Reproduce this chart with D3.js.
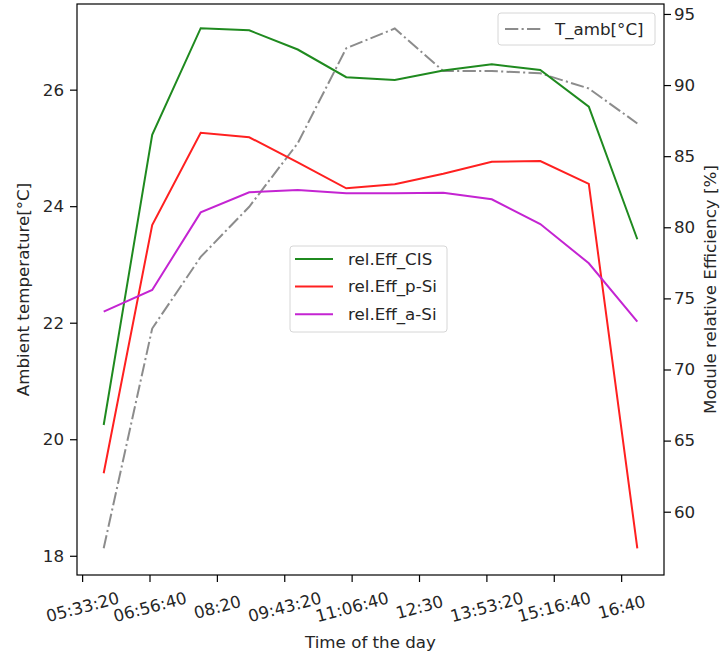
<!DOCTYPE html>
<html>
<head>
<meta charset="utf-8">
<script src="https://cdn.jsdelivr.net/npm/d3@7"></script>
<style>
  body { margin: 0; background: #fff; }
  svg { font-family: "DejaVu Sans", sans-serif; }
  text { fill: #262626; }
</style>
</head>
<body>
<svg width="722" height="655"></svg>
<script>
// hourly readings, time as seconds since midnight
var hours = [6, 7, 8, 9, 10, 11, 12, 13, 14, 15, 16, 17];
var tAmb = [18.13, 21.90, 23.13, 23.99, 25.08, 26.71, 27.05, 26.32, 26.32, 26.28, 26.02, 25.42];
var effCIS = [66.1, 86.5, 94.0, 93.85, 92.5, 90.55, 90.36, 91.03, 91.46, 91.06, 88.48, 79.16];
var effPSi = [62.7, 80.16, 86.65, 86.33, 84.57, 82.74, 83.02, 83.77, 84.61, 84.66, 83.05, 57.43];
var effASi = [74.07, 75.59, 81.05, 82.46, 82.62, 82.39, 82.39, 82.43, 81.97, 80.23, 77.47, 73.36];
var xTickValues = [20000, 25000, 30000, 35000, 40000, 45000, 50000, 55000, 60000];
var xTickLabels = ['05:33:20', '06:56:40', '08:20', '09:43:20', '11:06:40', '12:30', '13:53:20', '15:16:40', '16:40'];
var leftTicks = [18, 20, 22, 24, 26];
var rightTicks = [60, 65, 70, 75, 80, 85, 90, 95];

var margin = {left: 77, top: 4, right: 664, bottom: 575};
var fs = 16.7;

var svg = d3.select('svg');

var x = d3.scaleLinear()
          .domain([19620, 63180])
          .range([margin.left, margin.right]);

var yL = d3.scaleLinear()
           .domain([17.67, 27.47])
           .range([margin.bottom, margin.top]);

var yR = d3.scaleLinear()
           .domain([55.55, 95.7])
           .range([margin.bottom, margin.top]);

var secs = hours.map(h => h * 3600);

function series(vals) {
  return vals.map((v, i) => ({t: secs[i], v: v}));
}

var lineL = d3.line().x(d => x(d.t)).y(d => yL(d.v));
var lineR = d3.line().x(d => x(d.t)).y(d => yR(d.v));

var effSeries = [
  {name: 'rel.Eff_CIS', color: '#1f8a1f', vals: effCIS},
  {name: 'rel.Eff_p-Si', color: '#ff2020', vals: effPSi},
  {name: 'rel.Eff_a-Si', color: '#c424d2', vals: effASi}
];

// temperature (left axis)
svg.append('path')
    .datum(series(tAmb))
    .attr('d', lineL)
    .attr('fill', 'none')
    .attr('stroke', '#8c8c8c')
    .attr('stroke-width', 2)
    .attr('stroke-dasharray', '13.3,3.3,2.1,3.3');

// efficiencies (right axis)
effSeries.forEach(function(s) {
  svg.append('path')
      .datum(series(s.vals))
      .attr('d', lineR)
      .attr('fill', 'none')
      .attr('stroke', s.color)
      .attr('stroke-width', 2);
});

// frame
svg.append('rect')
    .attr('x', margin.left)
    .attr('y', margin.top)
    .attr('width', margin.right - margin.left)
    .attr('height', margin.bottom - margin.top)
    .attr('fill', 'none')
    .attr('stroke', '#000')
    .attr('stroke-width', 1.2);

// axes
var xAxis = svg.append('g')
    .attr('transform', 'translate(0,' + margin.bottom + ')')
    .call(d3.axisBottom(x).tickValues(xTickValues).tickSize(7)
            .tickFormat((d, i) => xTickLabels[i]));

xAxis.selectAll('text')
    .attr('transform', 'translate(0,32) rotate(-15)')
    .attr('y', 0)
    .attr('dy', '0.35em')
    .style('text-anchor', 'middle');

var yAxisL = svg.append('g')
    .attr('transform', 'translate(' + margin.left + ',0)')
    .call(d3.axisLeft(yL).tickValues(leftTicks).tickSize(7).tickPadding(6));

var yAxisR = svg.append('g')
    .attr('transform', 'translate(' + margin.right + ',0)')
    .call(d3.axisRight(yR).tickValues(rightTicks).tickSize(7).tickPadding(3));

[xAxis, yAxisL, yAxisR].forEach(function(g) {
  g.select('.domain').remove();
  g.selectAll('line').attr('stroke', '#000').attr('stroke-width', 1.2);
  g.selectAll('text')
      .style('font-family', '"DejaVu Sans", sans-serif')
      .style('font-size', fs + 'px')
      .attr('fill', '#262626');
});

// axis titles
svg.append('text')
    .text('Time of the day')
    .attr('x', (margin.left + margin.right) / 2)
    .attr('y', 648)
    .attr('text-anchor', 'middle')
    .style('font-size', fs + 'px');

svg.append('text')
    .text('Ambient temperature[°C]')
    .attr('transform', 'rotate(-90)')
    .attr('x', -(margin.top + margin.bottom) / 2)
    .attr('y', 29)
    .attr('text-anchor', 'middle')
    .style('font-size', fs + 'px');

svg.append('text')
    .text('Module relative Efficiency [%]')
    .attr('transform', 'rotate(-90)')
    .attr('x', -(margin.top + margin.bottom) / 2)
    .attr('y', 715.5)
    .attr('text-anchor', 'middle')
    .style('font-size', fs + 'px');

// legend for efficiencies
var lg = svg.append('g').attr('transform', 'translate(290,246)');
lg.append('rect')
    .attr('width', 157)
    .attr('height', 86)
    .attr('rx', 3)
    .attr('fill', 'rgba(255,255,255,0.8)')
    .attr('stroke', '#d6d6d6');
effSeries.forEach(function(s, i) {
  var yy = 13 + i * 27.6;
  lg.append('line')
      .attr('x1', 5).attr('x2', 43)
      .attr('y1', yy).attr('y2', yy)
      .attr('stroke', s.color)
      .attr('stroke-width', 2);
  lg.append('text')
      .text(s.name)
      .attr('x', 58)
      .attr('y', yy)
      .attr('dy', '0.35em')
      .style('font-size', fs + 'px');
});

// legend for temperature
var lt = svg.append('g').attr('transform', 'translate(498,13)');
lt.append('rect')
    .attr('width', 157)
    .attr('height', 32)
    .attr('rx', 3)
    .attr('fill', 'rgba(255,255,255,0.8)')
    .attr('stroke', '#d6d6d6');
lt.append('line')
    .attr('x1', 7).attr('x2', 43)
    .attr('y1', 16).attr('y2', 16)
    .attr('stroke', '#8c8c8c')
    .attr('stroke-width', 2)
    .attr('stroke-dasharray', '13.3,3.3,2.1,3.3');
lt.append('text')
    .text('T_amb[°C]')
    .attr('x', 57)
    .attr('y', 16)
    .attr('dy', '0.35em')
    .style('font-size', fs + 'px');
</script>
</body>
</html>
